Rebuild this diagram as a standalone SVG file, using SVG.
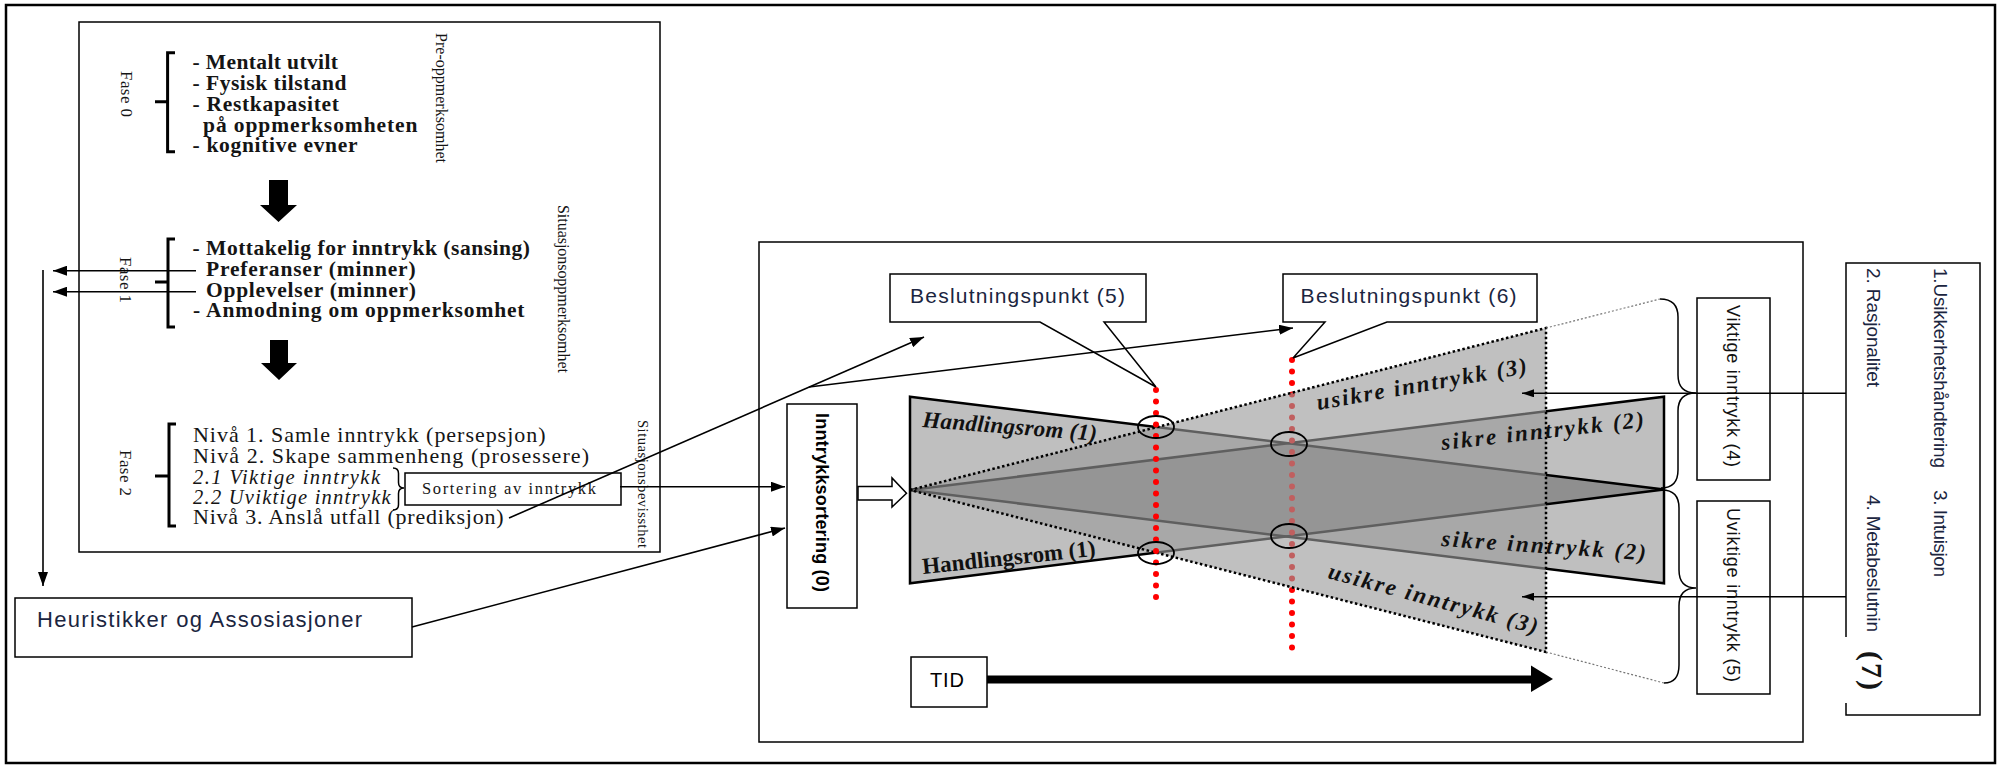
<svg xmlns="http://www.w3.org/2000/svg" width="1997" height="765" viewBox="0 0 1997 765">
<defs>
<marker id="ah" viewBox="0 0 14 10" refX="14" refY="5" markerWidth="14" markerHeight="10" orient="auto" markerUnits="userSpaceOnUse"><path d="M0,0L14,5L0,10z" fill="#000"/></marker>
<marker id="ahs" viewBox="0 0 12 8" refX="12" refY="4" markerWidth="12" markerHeight="8" orient="auto" markerUnits="userSpaceOnUse"><path d="M0,0L12,4L0,8z" fill="#000"/></marker>
</defs>
<style>
.box{fill:#fff;stroke:#000;stroke-width:1.5}
.ser{font-family:"Liberation Serif","Times New Roman",serif;fill:#151515}
.sans{font-family:"Liberation Sans",Arial,sans-serif}
.b20{font-size:21.5px;font-weight:bold}
.r21{font-size:22px}
.it{font-style:italic}
.vt{font-size:16px}
.fase{font-size:17px}
.con{fill:none;stroke:#000;stroke-width:1.6}
.brk{fill:none;stroke:#000;stroke-width:3}
.red{fill:none;stroke:#f00;stroke-width:6;stroke-linecap:round;stroke-dasharray:0 11.5}
.navy{fill:#1b2540}
.lbl{font-family:"Liberation Serif","Times New Roman",serif;font-weight:bold;font-size:23px;fill:#111}
.ell{fill:none;stroke:#000;stroke-width:1.8}
.brace{fill:none;stroke:#000;stroke-width:1.5}
</style>
<rect x="0" y="0" width="1997" height="765" fill="#fff"/>
<rect x="6" y="5" width="1989" height="758" fill="none" stroke="#000" stroke-width="2.5"/>

<g id="situasjon-box">
<rect class="box" x="79" y="22" width="581" height="530"/>
<g id="fase0">
<path class="brk" d="M175,52.7H167.6V151.7H175M167.6,101.7H155"/>
<text class="ser fase" transform="translate(121,71) rotate(90)" textLength="46">Fase 0</text>
<text class="ser b20" x="192.5" y="69" textLength="145.5">- Mentalt utvilt</text>
<text class="ser b20" x="192.5" y="90" textLength="154">- Fysisk tilstand</text>
<text class="ser b20" x="192.5" y="111" textLength="146.5">- Restkapasitet</text>
<text class="ser b20" x="203" y="132" textLength="214.5">på oppmerksomheten</text>
<text class="ser b20" x="192.5" y="152" textLength="165">- kognitive evner</text>
<text class="ser vt" transform="translate(436,33) rotate(90)" textLength="130">Pre-oppmerksomhet</text>
</g>
<polygon points="269,180 288,180 288,205 297,205 278.5,222 260,205 269,205" fill="#000"/>
<g id="fase1">
<path class="brk" d="M175,239H168V327H175M168,282H155"/>
<text class="ser fase" transform="translate(120,257) rotate(90)" textLength="46">Fase 1</text>
<text class="ser b20" x="192.5" y="255" textLength="337.5">- Mottakelig for inntrykk (sansing)</text>
<text class="ser b20" x="206" y="276" textLength="209.6">Preferanser (minner)</text>
<text class="ser b20" x="206" y="297" textLength="210">Opplevelser (minner)</text>
<text class="ser b20" x="193" y="317" textLength="331.5">- Anmodning om oppmerksomhet</text>
<text class="ser vt" transform="translate(558,205) rotate(90)" textLength="168">Situasjonsoppmerksomhet</text>
</g>
<polygon points="270,340 288,340 288,363 297,363 279,380 261,363 270,363" fill="#000"/>
<g id="fase2">
<path class="brk" d="M176,424H169V526H176M169,476H155"/>
<text class="ser fase" transform="translate(120,450) rotate(90)" textLength="46">Fase 2</text>
<text class="ser r21" x="193" y="442" textLength="352.5">Nivå 1. Samle inntrykk (persepsjon)</text>
<text class="ser r21" x="193" y="463" textLength="396">Nivå 2. Skape sammenheng (prosessere)</text>
<text class="ser it" font-size="20.5" x="193" y="483.5" textLength="187">2.1 Viktige inntrykk</text>
<text class="ser it" font-size="20.5" x="193" y="503.5" textLength="197.6">2.2 Uviktige inntrykk</text>
<text class="ser r21" x="193" y="524" textLength="310.6">Nivå 3. Anslå utfall (prediksjon)</text>
<path class="brace" d="M393,468Q398.5,468 398.5,473.5L398.5,482.5Q398.5,488 404,488Q398.5,488 398.5,493.5L398.5,504.5Q398.5,510 393,510"/>
<text class="ser" font-size="14.5" fill="#444" transform="translate(638,420) rotate(90)" textLength="128">Situasjonsbevissthet</text>
</g>
</g>

<g id="sortering">
<rect class="box" x="405" y="473" width="216" height="32"/>
<text class="ser" font-size="16.5" fill="#333" x="422" y="494" textLength="174">Sortering av inntrykk</text>
</g>

<g id="heuristikk">
<rect class="box" x="15" y="598" width="397" height="59"/>
<text class="sans navy" font-size="22" x="37" y="627" textLength="325">Heuristikker og Assosiasjoner</text>
</g>

<g id="main-box">
<rect class="box" x="759" y="242" width="1044" height="500"/>
</g>

<g id="inntrykksortering">
<rect class="box" x="787" y="404" width="70" height="204"/>
<text class="sans" font-size="18" font-weight="bold" transform="translate(816,413) rotate(90)" textLength="179">Inntrykksortering (0)</text>
<polygon points="858,486.6 892,486.6 892,478 906.5,493.3 892,507 892,500 858,500" fill="#fff" stroke="#000" stroke-width="1.5"/>
</g>

<g id="funnel">
<polygon points="910,396.7 1664,489.5 910,583.3" fill="#000" fill-opacity="0.25" stroke="#000" stroke-width="2.5"/>
<polygon points="910,490 1664,396.7 1664,583.3" fill="#000" fill-opacity="0.25" stroke="#000" stroke-width="2.5"/>
<line class="red" x1="1292" y1="360" x2="1292" y2="648"/>
<polygon points="910,490 1546,328 1546,652" fill="#999" fill-opacity="0.62"/>
<path d="M910,490L1546,328V652Z" fill="none" stroke="#000" stroke-width="2.5" stroke-dasharray="2.5 2.5"/>
<path d="M1546,328L1660,299M1546,652L1664,683" fill="none" stroke="#777" stroke-width="1.2" stroke-dasharray="2 2"/>
<line class="red" x1="1156" y1="390" x2="1156" y2="603"/>
<ellipse class="ell" cx="1156" cy="427" rx="18" ry="11"/>
<ellipse class="ell" cx="1156" cy="553" rx="18" ry="11"/>
<ellipse class="ell" cx="1289" cy="444" rx="18" ry="12"/>
<ellipse class="ell" cx="1289" cy="536" rx="18" ry="12"/>
<text class="lbl it" font-size="21" transform="translate(922,427) rotate(4.5)" textLength="175">Handlingsrom (1)</text>
<text class="lbl" font-size="21" transform="translate(923,574) rotate(-6)" textLength="174">Handlingsrom (1)</text>
<text class="lbl it" transform="translate(1318,410) rotate(-10)" textLength="213">usikre inntrykk (3)</text>
<text class="lbl it" transform="translate(1442,450) rotate(-6.5)" textLength="204">sikre inntrykk (2)</text>
<text class="lbl it" transform="translate(1441,546) rotate(4)" textLength="205">sikre inntrykk (2)</text>
<text class="lbl it" transform="translate(1327,578) rotate(15)" textLength="216">usikre inntrykk (3)</text>
</g>

<g id="beslutningspunkt5">
<path d="M890,274H1146V322H1104L1156,387L1040,322H890Z" fill="#fff" stroke="#000" stroke-width="1.5"/>
<text class="sans navy" font-size="21" x="910" y="303" textLength="215">Beslutningspunkt (5)</text>
</g>
<g id="beslutningspunkt6">
<path d="M1283,274H1537V322H1387L1293,358L1325,322H1283Z" fill="#fff" stroke="#000" stroke-width="1.5"/>
<text class="sans navy" font-size="21" x="1300.6" y="303" textLength="216">Beslutningspunkt (6)</text>
</g>

<g id="tid">
<rect class="box" x="911" y="657" width="76" height="50"/>
<text class="sans" font-size="20" x="930" y="687" textLength="34">TID</text>
<line x1="987" y1="679.5" x2="1533" y2="679.5" stroke="#000" stroke-width="8"/>
<polygon points="1531,665.5 1553,679 1531,692" fill="#000"/>
</g>

<g id="braces">
<path class="brace" d="M1660,299Q1678,299 1678,317L1678,375Q1678,393 1696,393Q1678,393 1678,411L1678,470Q1678,488 1661,488"/>
<path class="brace" d="M1662,490Q1679,490 1679,508L1679,570Q1679,588 1696,588Q1679,588 1679,606L1679,665Q1679,683 1664,683"/>
</g>

<g id="viktige">
<rect class="box" x="1697" y="298" width="73" height="182"/>
<text class="sans" font-size="18" fill="#111" transform="translate(1727,305) rotate(90)" textLength="162">Viktige inntrykk (4)</text>
</g>
<g id="uviktige">
<rect class="box" x="1697" y="501" width="73" height="193"/>
<text class="sans" font-size="18" fill="#111" transform="translate(1727,508) rotate(90)" textLength="174">Uviktige inntrykk (5)</text>
</g>

<g id="strategier">
<rect class="box" x="1846" y="263" width="134" height="452"/>
<text class="sans navy" font-size="19" transform="translate(1934,268) rotate(90)" textLength="200">1.Usikkerhetshåndtering</text>
<text class="sans navy" font-size="19" transform="translate(1934,490) rotate(90)" textLength="87">3. Intuisjon</text>
<text class="sans navy" font-size="19" transform="translate(1867,268) rotate(90)" textLength="119">2. Rasjonalitet</text>
<text class="sans navy" font-size="19" transform="translate(1867,495) rotate(90)" textLength="137">4. Metabeslutnin</text>
<rect x="1840" y="637" width="50" height="66" fill="#fff"/>
<text class="ser" font-size="30" font-weight="bold" fill="#000" transform="translate(1862,651) rotate(90)" textLength="39">(7)</text>
</g>

<g id="connectors">
<line class="con" x1="196" y1="270.7" x2="53" y2="270.7" marker-end="url(#ah)"/>
<line class="con" x1="196" y1="291.7" x2="53" y2="291.7" marker-end="url(#ah)"/>
<line class="con" x1="43" y1="270" x2="43" y2="586" marker-end="url(#ah)"/>
<line class="con" x1="620" y1="486.7" x2="785" y2="486.7" marker-end="url(#ah)"/>
<line class="con" x1="412" y1="627" x2="785" y2="528" marker-end="url(#ah)"/>
<line class="con" x1="509" y1="518" x2="924" y2="337" marker-end="url(#ah)"/>
<line class="con" x1="809" y1="387" x2="1293" y2="328" marker-end="url(#ah)"/>
<line class="con" x1="1846" y1="393.3" x2="1522" y2="393.3" marker-end="url(#ahs)"/>
<line class="con" x1="1846" y1="596.7" x2="1522" y2="596.7" marker-end="url(#ahs)"/>
</g>
</svg>
